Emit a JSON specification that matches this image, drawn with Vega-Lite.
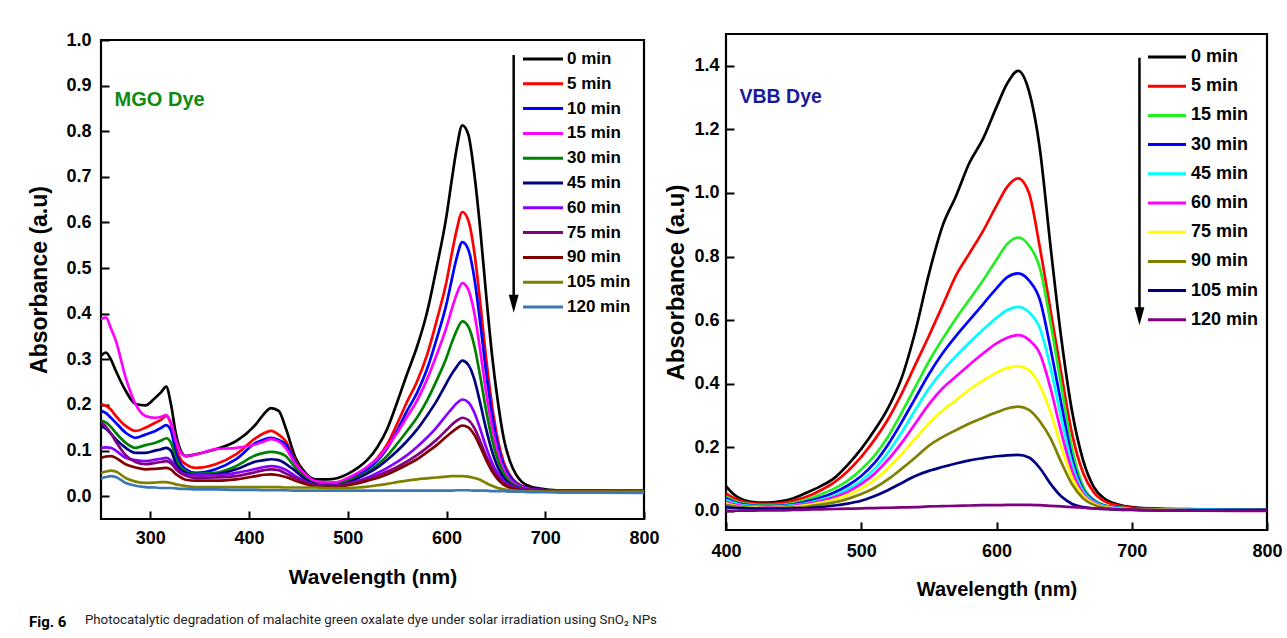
{
  "$schema": "https://vega.github.io/schema/vega-lite/v6.json",
  "background": "white",
  "padding": {"left": 27, "top": 29, "right": 5, "bottom": 5},
  "title": {"text": "Photocatalytic degradation of malachite green oxalate dye under solar irradiation using SnO₂ NPs", "orient": "bottom", "anchor": "start", "font": "Roboto", "fontSize": 13.3, "fontWeight": "normal", "color": "#222222", "dx": 57, "dy": -18, "offset": 0},
  "datasets": {
    "mgo": [
      {"w":250,"0 min":0.308,"5 min":0.202,"10 min":0.187,"15 min":0.388,"30 min":0.166,"45 min":0.154,"60 min":0.106,"75 min":0.163,"90 min":0.084,"105 min":0.051,"120 min":0.039},
      {"w":255,"0 min":0.315,"5 min":0.198,"10 min":0.182,"15 min":0.392,"30 min":0.162,"45 min":0.148,"60 min":0.107,"75 min":0.152,"90 min":0.087,"105 min":0.054,"120 min":0.042},
      {"w":260,"0 min":0.300,"5 min":0.190,"10 min":0.172,"15 min":0.368,"30 min":0.152,"45 min":0.137,"60 min":0.106,"75 min":0.138,"90 min":0.088,"105 min":0.056,"120 min":0.044},
      {"w":265,"0 min":0.275,"5 min":0.176,"10 min":0.161,"15 min":0.341,"30 min":0.139,"45 min":0.125,"60 min":0.100,"75 min":0.120,"90 min":0.084,"105 min":0.054,"120 min":0.042},
      {"w":275,"0 min":0.231,"5 min":0.154,"10 min":0.139,"15 min":0.260,"30 min":0.117,"45 min":0.106,"60 min":0.084,"75 min":0.090,"90 min":0.070,"105 min":0.040,"120 min":0.029},
      {"w":285,"0 min":0.202,"5 min":0.143,"10 min":0.128,"15 min":0.202,"30 min":0.106,"45 min":0.095,"60 min":0.079,"75 min":0.075,"90 min":0.063,"105 min":0.032,"120 min":0.023},
      {"w":295,"0 min":0.199,"5 min":0.150,"10 min":0.135,"15 min":0.176,"30 min":0.112,"45 min":0.095,"60 min":0.077,"75 min":0.070,"90 min":0.059,"105 min":0.029,"120 min":0.020},
      {"w":305,"0 min":0.216,"5 min":0.161,"10 min":0.143,"15 min":0.172,"30 min":0.117,"45 min":0.100,"60 min":0.080,"75 min":0.073,"90 min":0.060,"105 min":0.030,"120 min":0.019},
      {"w":311,"0 min":0.228,"5 min":0.168,"10 min":0.150,"15 min":0.174,"30 min":0.122,"45 min":0.103,"60 min":0.082,"75 min":0.075,"90 min":0.061,"105 min":0.031,"120 min":0.018},
      {"w":316,"0 min":0.240,"5 min":0.176,"10 min":0.156,"15 min":0.178,"30 min":0.127,"45 min":0.106,"60 min":0.084,"75 min":0.077,"90 min":0.062,"105 min":0.031,"120 min":0.018},
      {"w":321,"0 min":0.200,"5 min":0.157,"10 min":0.143,"15 min":0.160,"30 min":0.117,"45 min":0.099,"60 min":0.078,"75 min":0.072,"90 min":0.058,"105 min":0.029,"120 min":0.018},
      {"w":326,"0 min":0.135,"5 min":0.106,"10 min":0.095,"15 min":0.121,"30 min":0.081,"45 min":0.070,"60 min":0.062,"75 min":0.059,"90 min":0.048,"105 min":0.026,"120 min":0.017},
      {"w":331,"0 min":0.099,"5 min":0.080,"10 min":0.070,"15 min":0.095,"30 min":0.063,"45 min":0.057,"60 min":0.053,"75 min":0.050,"90 min":0.041,"105 min":0.024,"120 min":0.016},
      {"w":336,"0 min":0.088,"5 min":0.070,"10 min":0.059,"15 min":0.088,"30 min":0.055,"45 min":0.051,"60 min":0.048,"75 min":0.045,"90 min":0.036,"105 min":0.022,"120 min":0.016},
      {"w":346,"0 min":0.092,"5 min":0.062,"10 min":0.051,"15 min":0.091,"30 min":0.049,"45 min":0.046,"60 min":0.046,"75 min":0.040,"90 min":0.034,"105 min":0.020,"120 min":0.015},
      {"w":366,"0 min":0.103,"5 min":0.070,"10 min":0.059,"15 min":0.103,"30 min":0.051,"45 min":0.048,"60 min":0.046,"75 min":0.041,"90 min":0.034,"105 min":0.020,"120 min":0.015},
      {"w":387,"0 min":0.121,"5 min":0.092,"10 min":0.081,"15 min":0.106,"30 min":0.066,"45 min":0.059,"60 min":0.051,"75 min":0.044,"90 min":0.037,"105 min":0.020,"120 min":0.014},
      {"w":407,"0 min":0.158,"5 min":0.128,"10 min":0.117,"15 min":0.114,"30 min":0.090,"45 min":0.076,"60 min":0.060,"75 min":0.053,"90 min":0.044,"105 min":0.020,"120 min":0.014},
      {"w":415,"0 min":0.180,"5 min":0.138,"10 min":0.124,"15 min":0.120,"30 min":0.095,"45 min":0.079,"60 min":0.064,"75 min":0.057,"90 min":0.047,"105 min":0.020,"120 min":0.013},
      {"w":422,"0 min":0.193,"5 min":0.143,"10 min":0.128,"15 min":0.125,"30 min":0.097,"45 min":0.081,"60 min":0.066,"75 min":0.059,"90 min":0.048,"105 min":0.020,"120 min":0.013},
      {"w":430,"0 min":0.187,"5 min":0.135,"10 min":0.123,"15 min":0.120,"30 min":0.095,"45 min":0.079,"60 min":0.064,"75 min":0.057,"90 min":0.046,"105 min":0.020,"120 min":0.013},
      {"w":437,"0 min":0.150,"5 min":0.121,"10 min":0.114,"15 min":0.106,"30 min":0.088,"45 min":0.071,"60 min":0.058,"75 min":0.050,"90 min":0.042,"105 min":0.019,"120 min":0.013},
      {"w":447,"0 min":0.084,"5 min":0.077,"10 min":0.073,"15 min":0.070,"30 min":0.062,"45 min":0.055,"60 min":0.044,"75 min":0.040,"90 min":0.034,"105 min":0.019,"120 min":0.012},
      {"w":457,"0 min":0.051,"5 min":0.044,"10 min":0.044,"15 min":0.048,"30 min":0.040,"45 min":0.037,"60 min":0.032,"75 min":0.030,"90 min":0.027,"105 min":0.019,"120 min":0.012},
      {"w":467,"0 min":0.037,"5 min":0.029,"10 min":0.029,"15 min":0.033,"30 min":0.027,"45 min":0.026,"60 min":0.024,"75 min":0.023,"90 min":0.021,"105 min":0.019,"120 min":0.012},
      {"w":480,"0 min":0.037,"5 min":0.028,"10 min":0.028,"15 min":0.030,"30 min":0.025,"45 min":0.023,"60 min":0.022,"75 min":0.022,"90 min":0.020,"105 min":0.018,"120 min":0.012},
      {"w":490,"0 min":0.040,"5 min":0.030,"10 min":0.030,"15 min":0.031,"30 min":0.026,"45 min":0.024,"60 min":0.023,"75 min":0.022,"90 min":0.020,"105 min":0.018,"120 min":0.012},
      {"w":500,"0 min":0.049,"5 min":0.039,"10 min":0.038,"15 min":0.040,"30 min":0.034,"45 min":0.030,"60 min":0.028,"75 min":0.027,"90 min":0.024,"105 min":0.018,"120 min":0.012},
      {"w":510,"0 min":0.062,"5 min":0.049,"10 min":0.047,"15 min":0.051,"30 min":0.042,"45 min":0.039,"60 min":0.033,"75 min":0.031,"90 min":0.028,"105 min":0.019,"120 min":0.012},
      {"w":520,"0 min":0.080,"5 min":0.063,"10 min":0.059,"15 min":0.065,"30 min":0.053,"45 min":0.050,"60 min":0.041,"75 min":0.037,"90 min":0.034,"105 min":0.021,"120 min":0.012},
      {"w":530,"0 min":0.108,"5 min":0.084,"10 min":0.078,"15 min":0.083,"30 min":0.069,"45 min":0.063,"60 min":0.051,"75 min":0.045,"90 min":0.040,"105 min":0.024,"120 min":0.012},
      {"w":540,"0 min":0.148,"5 min":0.114,"10 min":0.105,"15 min":0.108,"30 min":0.089,"45 min":0.080,"60 min":0.062,"75 min":0.054,"90 min":0.048,"105 min":0.027,"120 min":0.012},
      {"w":550,"0 min":0.206,"5 min":0.159,"10 min":0.144,"15 min":0.139,"30 min":0.115,"45 min":0.099,"60 min":0.075,"75 min":0.064,"90 min":0.058,"105 min":0.031,"120 min":0.012},
      {"w":560,"0 min":0.268,"5 min":0.207,"10 min":0.187,"15 min":0.174,"30 min":0.143,"45 min":0.121,"60 min":0.090,"75 min":0.076,"90 min":0.069,"105 min":0.034,"120 min":0.012},
      {"w":570,"0 min":0.327,"5 min":0.251,"10 min":0.226,"15 min":0.209,"30 min":0.172,"45 min":0.146,"60 min":0.108,"75 min":0.090,"90 min":0.081,"105 min":0.037,"120 min":0.012},
      {"w":580,"0 min":0.401,"5 min":0.308,"10 min":0.277,"15 min":0.255,"30 min":0.209,"45 min":0.176,"60 min":0.128,"75 min":0.106,"90 min":0.096,"105 min":0.039,"120 min":0.012},
      {"w":590,"0 min":0.502,"5 min":0.385,"10 min":0.345,"15 min":0.310,"30 min":0.254,"45 min":0.209,"60 min":0.151,"75 min":0.124,"90 min":0.112,"105 min":0.041,"120 min":0.012},
      {"w":600,"0 min":0.615,"5 min":0.471,"10 min":0.422,"15 min":0.371,"30 min":0.304,"45 min":0.248,"60 min":0.178,"75 min":0.145,"90 min":0.131,"105 min":0.043,"120 min":0.012},
      {"w":605,"0 min":0.689,"5 min":0.528,"10 min":0.472,"15 min":0.408,"30 min":0.335,"45 min":0.267,"60 min":0.191,"75 min":0.156,"90 min":0.140,"105 min":0.044,"120 min":0.012},
      {"w":610,"0 min":0.759,"5 min":0.581,"10 min":0.520,"15 min":0.441,"30 min":0.362,"45 min":0.283,"60 min":0.203,"75 min":0.165,"90 min":0.148,"105 min":0.044,"120 min":0.013},
      {"w":616,"0 min":0.813,"5 min":0.623,"10 min":0.557,"15 min":0.467,"30 min":0.383,"45 min":0.297,"60 min":0.212,"75 min":0.172,"90 min":0.155,"105 min":0.044,"120 min":0.013},
      {"w":622,"0 min":0.793,"5 min":0.605,"10 min":0.541,"15 min":0.453,"30 min":0.372,"45 min":0.288,"60 min":0.206,"75 min":0.167,"90 min":0.151,"105 min":0.043,"120 min":0.013},
      {"w":628,"0 min":0.709,"5 min":0.537,"10 min":0.480,"15 min":0.403,"30 min":0.331,"45 min":0.257,"60 min":0.184,"75 min":0.150,"90 min":0.135,"105 min":0.040,"120 min":0.012},
      {"w":634,"0 min":0.588,"5 min":0.427,"10 min":0.382,"15 min":0.321,"30 min":0.264,"45 min":0.205,"60 min":0.148,"75 min":0.121,"90 min":0.109,"105 min":0.036,"120 min":0.012},
      {"w":640,"0 min":0.444,"5 min":0.304,"10 min":0.273,"15 min":0.229,"30 min":0.189,"45 min":0.148,"60 min":0.108,"75 min":0.089,"90 min":0.080,"105 min":0.029,"120 min":0.012},
      {"w":646,"0 min":0.311,"5 min":0.200,"10 min":0.180,"15 min":0.152,"30 min":0.126,"45 min":0.099,"60 min":0.074,"75 min":0.062,"90 min":0.055,"105 min":0.023,"120 min":0.011},
      {"w":652,"0 min":0.207,"5 min":0.123,"10 min":0.111,"15 min":0.095,"30 min":0.079,"45 min":0.063,"60 min":0.049,"75 min":0.042,"90 min":0.037,"105 min":0.018,"120 min":0.011},
      {"w":658,"0 min":0.126,"5 min":0.074,"10 min":0.067,"15 min":0.058,"30 min":0.049,"45 min":0.040,"60 min":0.033,"75 min":0.029,"90 min":0.025,"105 min":0.015,"120 min":0.011},
      {"w":664,"0 min":0.078,"5 min":0.047,"10 min":0.043,"15 min":0.037,"30 min":0.032,"45 min":0.027,"60 min":0.024,"75 min":0.022,"90 min":0.019,"105 min":0.013,"120 min":0.010},
      {"w":670,"0 min":0.049,"5 min":0.031,"10 min":0.029,"15 min":0.026,"30 min":0.023,"45 min":0.020,"60 min":0.019,"75 min":0.018,"90 min":0.015,"105 min":0.012,"120 min":0.010},
      {"w":676,"0 min":0.032,"5 min":0.023,"10 min":0.022,"15 min":0.020,"30 min":0.018,"45 min":0.016,"60 min":0.016,"75 min":0.016,"90 min":0.013,"105 min":0.011,"120 min":0.010},
      {"w":685,"0 min":0.021,"5 min":0.017,"10 min":0.017,"15 min":0.015,"30 min":0.014,"45 min":0.013,"60 min":0.014,"75 min":0.014,"90 min":0.012,"105 min":0.011,"120 min":0.009},
      {"w":700,"0 min":0.015,"5 min":0.013,"10 min":0.013,"15 min":0.012,"30 min":0.012,"45 min":0.011,"60 min":0.013,"75 min":0.013,"90 min":0.011,"105 min":0.010,"120 min":0.009},
      {"w":720,"0 min":0.012,"5 min":0.012,"10 min":0.012,"15 min":0.011,"30 min":0.011,"45 min":0.011,"60 min":0.012,"75 min":0.012,"90 min":0.010,"105 min":0.010,"120 min":0.008},
      {"w":750,"0 min":0.011,"5 min":0.011,"10 min":0.011,"15 min":0.011,"30 min":0.011,"45 min":0.010,"60 min":0.012,"75 min":0.012,"90 min":0.010,"105 min":0.010,"120 min":0.008},
      {"w":800,"0 min":0.010,"5 min":0.010,"10 min":0.010,"15 min":0.010,"30 min":0.010,"45 min":0.010,"60 min":0.012,"75 min":0.012,"90 min":0.010,"105 min":0.010,"120 min":0.007}
    ],
    "vbb": [
      {"w":400,"0 min":0.078,"5 min":0.055,"15 min":0.045,"30 min":0.040,"45 min":0.034,"60 min":0.029,"75 min":0.024,"90 min":0.019,"105 min":0.012,"120 min":0.000},
      {"w":405,"0 min":0.055,"5 min":0.042,"15 min":0.034,"30 min":0.030,"45 min":0.026,"60 min":0.022,"75 min":0.018,"90 min":0.015,"105 min":0.010,"120 min":0.000},
      {"w":410,"0 min":0.040,"5 min":0.033,"15 min":0.026,"30 min":0.023,"45 min":0.020,"60 min":0.017,"75 min":0.014,"90 min":0.012,"105 min":0.009,"120 min":0.001},
      {"w":420,"0 min":0.028,"5 min":0.024,"15 min":0.020,"30 min":0.017,"45 min":0.015,"60 min":0.013,"75 min":0.011,"90 min":0.009,"105 min":0.008,"120 min":0.001},
      {"w":430,"0 min":0.026,"5 min":0.022,"15 min":0.018,"30 min":0.015,"45 min":0.013,"60 min":0.011,"75 min":0.009,"90 min":0.008,"105 min":0.007,"120 min":0.002},
      {"w":440,"0 min":0.030,"5 min":0.025,"15 min":0.019,"30 min":0.016,"45 min":0.014,"60 min":0.012,"75 min":0.010,"90 min":0.009,"105 min":0.007,"120 min":0.002},
      {"w":450,"0 min":0.040,"5 min":0.032,"15 min":0.025,"30 min":0.021,"45 min":0.018,"60 min":0.016,"75 min":0.013,"90 min":0.011,"105 min":0.008,"120 min":0.003},
      {"w":460,"0 min":0.058,"5 min":0.045,"15 min":0.036,"30 min":0.030,"45 min":0.025,"60 min":0.022,"75 min":0.018,"90 min":0.014,"105 min":0.009,"120 min":0.004},
      {"w":470,"0 min":0.078,"5 min":0.065,"15 min":0.052,"30 min":0.042,"45 min":0.035,"60 min":0.031,"75 min":0.026,"90 min":0.020,"105 min":0.012,"120 min":0.005},
      {"w":480,"0 min":0.103,"5 min":0.090,"15 min":0.070,"30 min":0.058,"45 min":0.048,"60 min":0.043,"75 min":0.036,"90 min":0.027,"105 min":0.017,"120 min":0.006},
      {"w":490,"0 min":0.145,"5 min":0.125,"15 min":0.095,"30 min":0.080,"45 min":0.068,"60 min":0.060,"75 min":0.050,"90 min":0.038,"105 min":0.023,"120 min":0.007},
      {"w":500,"0 min":0.195,"5 min":0.170,"15 min":0.130,"30 min":0.110,"45 min":0.095,"60 min":0.085,"75 min":0.070,"90 min":0.053,"105 min":0.032,"120 min":0.008},
      {"w":510,"0 min":0.255,"5 min":0.225,"15 min":0.175,"30 min":0.152,"45 min":0.133,"60 min":0.118,"75 min":0.098,"90 min":0.073,"105 min":0.047,"120 min":0.009},
      {"w":520,"0 min":0.325,"5 min":0.290,"15 min":0.235,"30 min":0.210,"45 min":0.185,"60 min":0.162,"75 min":0.135,"90 min":0.100,"105 min":0.066,"120 min":0.010},
      {"w":530,"0 min":0.420,"5 min":0.370,"15 min":0.310,"30 min":0.280,"45 min":0.248,"60 min":0.215,"75 min":0.180,"90 min":0.133,"105 min":0.088,"120 min":0.011},
      {"w":540,"0 min":0.565,"5 min":0.460,"15 min":0.390,"30 min":0.355,"45 min":0.318,"60 min":0.275,"75 min":0.228,"90 min":0.168,"105 min":0.110,"120 min":0.012},
      {"w":550,"0 min":0.745,"5 min":0.550,"15 min":0.470,"30 min":0.430,"45 min":0.385,"60 min":0.335,"75 min":0.275,"90 min":0.205,"105 min":0.126,"120 min":0.014},
      {"w":560,"0 min":0.895,"5 min":0.645,"15 min":0.540,"30 min":0.495,"45 min":0.440,"60 min":0.385,"75 min":0.315,"90 min":0.232,"105 min":0.138,"120 min":0.015},
      {"w":570,"0 min":0.990,"5 min":0.740,"15 min":0.605,"30 min":0.550,"45 min":0.487,"60 min":0.423,"75 min":0.348,"90 min":0.254,"105 min":0.149,"120 min":0.016},
      {"w":580,"0 min":1.095,"5 min":0.810,"15 min":0.665,"30 min":0.600,"45 min":0.530,"60 min":0.460,"75 min":0.382,"90 min":0.275,"105 min":0.159,"120 min":0.017},
      {"w":590,"0 min":1.170,"5 min":0.880,"15 min":0.725,"30 min":0.650,"45 min":0.570,"60 min":0.495,"75 min":0.410,"90 min":0.293,"105 min":0.166,"120 min":0.018},
      {"w":600,"0 min":1.270,"5 min":0.960,"15 min":0.790,"30 min":0.700,"45 min":0.607,"60 min":0.527,"75 min":0.435,"90 min":0.310,"105 min":0.172,"120 min":0.018},
      {"w":608,"0 min":1.345,"5 min":1.020,"15 min":0.840,"30 min":0.735,"45 min":0.632,"60 min":0.545,"75 min":0.450,"90 min":0.322,"105 min":0.175,"120 min":0.019},
      {"w":616,"0 min":1.384,"5 min":1.046,"15 min":0.860,"30 min":0.747,"45 min":0.642,"60 min":0.553,"75 min":0.455,"90 min":0.328,"105 min":0.176,"120 min":0.019},
      {"w":624,"0 min":1.320,"5 min":1.000,"15 min":0.835,"30 min":0.725,"45 min":0.625,"60 min":0.538,"75 min":0.443,"90 min":0.318,"105 min":0.168,"120 min":0.019},
      {"w":632,"0 min":1.140,"5 min":0.830,"15 min":0.765,"30 min":0.665,"45 min":0.575,"60 min":0.495,"75 min":0.395,"90 min":0.282,"105 min":0.135,"120 min":0.018},
      {"w":640,"0 min":0.830,"5 min":0.630,"15 min":0.590,"30 min":0.510,"45 min":0.450,"60 min":0.385,"75 min":0.310,"90 min":0.228,"105 min":0.085,"120 min":0.016},
      {"w":648,"0 min":0.540,"5 min":0.430,"15 min":0.390,"30 min":0.335,"45 min":0.290,"60 min":0.245,"75 min":0.200,"90 min":0.152,"105 min":0.045,"120 min":0.014},
      {"w":656,"0 min":0.310,"5 min":0.240,"15 min":0.195,"30 min":0.165,"45 min":0.145,"60 min":0.125,"75 min":0.103,"90 min":0.083,"105 min":0.022,"120 min":0.012},
      {"w":664,"0 min":0.160,"5 min":0.120,"15 min":0.078,"30 min":0.068,"45 min":0.062,"60 min":0.055,"75 min":0.048,"90 min":0.040,"105 min":0.012,"120 min":0.010},
      {"w":672,"0 min":0.075,"5 min":0.058,"15 min":0.035,"30 min":0.032,"45 min":0.029,"60 min":0.026,"75 min":0.023,"90 min":0.019,"105 min":0.008,"120 min":0.008},
      {"w":680,"0 min":0.038,"5 min":0.030,"15 min":0.018,"30 min":0.016,"45 min":0.015,"60 min":0.013,"75 min":0.012,"90 min":0.010,"105 min":0.006,"120 min":0.006},
      {"w":690,"0 min":0.020,"5 min":0.017,"15 min":0.011,"30 min":0.010,"45 min":0.009,"60 min":0.008,"75 min":0.007,"90 min":0.006,"105 min":0.004,"120 min":0.005},
      {"w":700,"0 min":0.012,"5 min":0.010,"15 min":0.007,"30 min":0.007,"45 min":0.006,"60 min":0.005,"75 min":0.005,"90 min":0.004,"105 min":0.003,"120 min":0.004},
      {"w":720,"0 min":0.007,"5 min":0.006,"15 min":0.005,"30 min":0.005,"45 min":0.004,"60 min":0.003,"75 min":0.003,"90 min":0.003,"105 min":0.002,"120 min":0.002},
      {"w":750,"0 min":0.005,"5 min":0.004,"15 min":0.004,"30 min":0.004,"45 min":0.003,"60 min":0.002,"75 min":0.002,"90 min":0.002,"105 min":0.002,"120 min":0.001},
      {"w":800,"0 min":0.003,"5 min":0.003,"15 min":0.003,"30 min":0.003,"45 min":0.002,"60 min":0.002,"75 min":0.002,"90 min":0.002,"105 min":0.002,"120 min":0.000}
    ]
  },
  "hconcat": [
    {
      "vconcat": [
        {
          "width": 543,
          "height": 6,
          "view": {"stroke": null},
          "data": {"values": []},
          "mark": "rect",
          "encoding": {}
        },
        {
          "width": 543,
          "height": 479,
          "title": {"text": "Fig. 6", "orient": "bottom", "anchor": "start", "font": "Roboto", "fontSize": 15, "fontWeight": "bold", "color": "#000000", "offset": 28},
          "layer": [
            {
              "data": {"name": "mgo"},
              "transform": [{"fold": ["0 min","5 min","10 min","15 min","30 min","45 min","60 min","75 min","90 min","105 min","120 min"], "as": ["t", "a"]}],
              "mark": {"type": "line", "strokeWidth": 2.7, "interpolate": "monotone", "clip": true},
              "encoding": {
                "x": {"field": "w", "type": "quantitative", "scale": {"domain": [250, 800], "nice": false, "zero": false},
                      "axis": {"values": [300, 400, 500, 600, 700, 800], "title": "Wavelength (nm)", "titleFontSize": 21, "titlePadding": 19, "labelPadding": 18}},
                "y": {"field": "a", "type": "quantitative", "scale": {"domain": [-0.05, 1.0], "nice": false, "zero": false},
                      "axis": {"values": [0, 0.1, 0.2, 0.3, 0.4, 0.5, 0.6, 0.7, 0.8, 0.9, 1.0], "format": ".1f", "title": "Absorbance (a.u)", "titleFontSize": 23, "titlePadding": 14, "labelPadding": 18}},
                "color": {"field": "t", "type": "nominal",
                          "scale": {"domain": ["0 min","5 min","10 min","15 min","30 min","45 min","60 min","75 min","90 min","105 min","120 min"],
                                    "range": ["#000000","#ff0000","#0000ff","#ff00ff","#008000","#000080","#8800ff","#800080","#800000","#808000","#3a78b8"]},
                          "legend": {"title": null, "orient": "none", "legendX": 410.5, "legendY": 13.5, "symbolType": "M0,0H4", "symbolSize": 400, "symbolStrokeWidth": 3, "labelFontSize": 17, "labelOffset": 32.5, "rowPadding": 4.8}}
              }
            },
            {
              "data": {"values": [{}]},
              "mark": {"type": "rule", "strokeWidth": 2.5, "color": "#000000"},
              "encoding": {"x": {"datum": 668}, "y": {"datum": 0.967}, "y2": {"datum": 0.43}}
            },
            {
              "data": {"values": [{}]},
              "mark": {"type": "point", "shape": "M-0.55,-1L0.55,-1L0,1Z", "filled": true, "color": "#000000", "size": 324, "opacity": 1},
              "encoding": {"x": {"datum": 668}, "y": {"datum": 0.422}}
            },
            {
              "data": {"values": [{}]},
              "mark": {"type": "text", "text": "MGO Dye", "align": "left", "baseline": "middle", "font": "Liberation Sans", "fontSize": 20, "fontWeight": "bold", "color": "#0f8a0f"},
              "encoding": {"x": {"datum": 263.8}, "y": {"datum": 0.868}}
            }
          ]
        }
      ],
      "spacing": 0,
      "bounds": "flush"
    },
    {
      "width": 541,
      "height": 496,
      "layer": [
        {
          "data": {"name": "vbb"},
          "transform": [{"fold": ["0 min","5 min","15 min","30 min","45 min","60 min","75 min","90 min","105 min","120 min"], "as": ["t", "a"]}],
          "mark": {"type": "line", "strokeWidth": 2.7, "interpolate": "monotone", "clip": true},
          "encoding": {
            "x": {"field": "w", "type": "quantitative", "scale": {"domain": [400, 800], "nice": false, "zero": false},
                  "axis": {"values": [400, 500, 600, 700, 800], "title": "Wavelength (nm)", "titleFontSize": 20, "titlePadding": 19, "labelPadding": 20}},
            "y": {"field": "a", "type": "quantitative", "scale": {"domain": [-0.06, 1.5], "nice": false, "zero": false},
                  "axis": {"values": [0, 0.2, 0.4, 0.6, 0.8, 1.0, 1.2, 1.4], "format": ".1f", "title": "Absorbance (a.u)", "titleFontSize": 24, "titlePadding": 5, "labelPadding": 15}},
            "color": {"field": "t", "type": "nominal",
                      "scale": {"domain": ["0 min","5 min","15 min","30 min","45 min","60 min","75 min","90 min","105 min","120 min"],
                                "range": ["#000000","#ff0000","#22ee22","#0000ff","#00ffff","#ff00ff","#ffff00","#808000","#000080","#800080"]},
                      "legend": {"title": null, "orient": "none", "legendX": 411, "legendY": 12, "symbolType": "M0,0H4", "symbolSize": 361, "symbolStrokeWidth": 3, "labelFontSize": 18, "labelOffset": 32, "rowPadding": 9.2}}
          }
        },
        {
          "data": {"values": [{}]},
          "mark": {"type": "rule", "strokeWidth": 2.5, "color": "#000000"},
          "encoding": {"x": {"datum": 705.7}, "y": {"datum": 1.425}, "y2": {"datum": 0.62}}
        },
        {
          "data": {"values": [{}]},
          "mark": {"type": "point", "shape": "M-0.55,-1L0.55,-1L0,1Z", "filled": true, "color": "#000000", "size": 324, "opacity": 1},
          "encoding": {"x": {"datum": 705.7}, "y": {"datum": 0.612}}
        },
        {
          "data": {"values": [{}]},
          "mark": {"type": "text", "text": "VBB Dye", "align": "left", "baseline": "middle", "font": "Liberation Sans", "fontSize": 19.5, "fontWeight": "bold", "color": "#1a1a9c"},
          "encoding": {"x": {"datum": 410}, "y": {"datum": 1.303}}
        }
      ]
    }
  ],
  "spacing": 2,
  "resolve": {"scale": {"color": "independent"}, "legend": {"color": "independent"}},
  "config": {
    "font": "Liberation Sans",
    "view": {"stroke": "#000000", "strokeWidth": 2.2},
    "axis": {"domain": false, "grid": false, "ticks": true, "tickSize": -8, "tickWidth": 2, "tickColor": "#000000",
             "labelFont": "Liberation Sans", "labelFontSize": 18, "labelFontWeight": "bold", "labelColor": "#000000",
             "labelFlush": false, "labelOverlap": false,
             "titleFont": "Liberation Sans", "titleFontWeight": "bold", "titleColor": "#000000"},
    "legend": {"labelFont": "Liberation Sans", "labelFontWeight": "bold", "labelColor": "#000000", "padding": 0}
  }
}
